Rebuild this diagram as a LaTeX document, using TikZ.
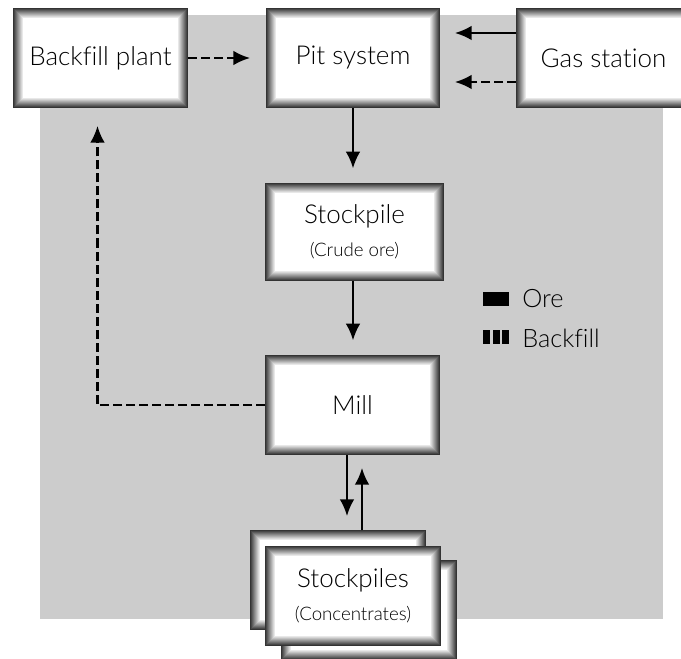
\documentclass[tikz,border=0pt]{standalone}
\usepackage{fontspec}
\setmainfont{Lato}[UprightFont=* Light, Ligatures=NoCommon]
\usetikzlibrary{arrows.meta,calc}

\newcommand\subtextfont{\fontsize{14}{17}\selectfont}

\tikzset{
  bevelbox/.style={
    rectangle, inner sep=0pt, outer sep=0pt, fill=white,
    minimum width=131.25pt, minimum height=75pt,
    font=\fontsize{19.5}{23}\selectfont, align=center,
    path picture={
      \foreach \k/\g in {0/80,1/72,2/64,3/56,4/48,5/40,6/32,7/24,8/16,9/9}{
        \draw[black!\g, line width=0.9pt]
          ($(path picture bounding box.north west)+(\k+0.5,\k+0.5)$) rectangle
          ($(path picture bounding box.south east)+(-\k-0.5,-\k-0.5)$);
      }
    }
  },
  flow/.style={line width=1.6pt, -{Latex[length=12.5pt,width=11pt]}},
  fillflow/.style={flow, dash pattern=on 6.75pt off 3pt},
  legtext/.style={anchor=west, inner sep=0pt, font=\fontsize{19}{23}\selectfont}
}

\begin{document}
\begin{tikzpicture}[x=0.75pt, y=-0.75pt]
  \useasboundingbox (0,0) rectangle (681,659);

  % shaded site area
  \fill[black!20] (40,15) rectangle (663,619);

  % plants and storage
  \node[bevelbox] (bp)   at (100.5,58) {Backfill plant};
  \node[bevelbox, minimum width=130.5pt] (pit) at (353,58) {Pit system};
  \node[bevelbox] (gas)  at (603.5,58) {Gas station};
  \node[bevelbox, minimum width=134.25pt, minimum height=73.5pt] (stock) at (354.5,232)
    {Stockpile\\[2pt]{\subtextfont (Crude ore)}};
  \node[bevelbox] (mill) at (352.5,405) {Mill};

  % stacked concentrate stockpiles
  \node[bevelbox, minimum width=132pt] (sp1) at (338,580) {};
  \node[bevelbox, minimum width=132pt] (sp2) at (369,610) {};
  \node[bevelbox, minimum width=132pt] (sp) at (353,596)
    {Stockpiles\\[2pt]{\subtextfont (Concentrates)}};

  % material flows
  \draw[fillflow, shorten >=12pt] (bp.east) -- (pit.west);
  \draw[flow, shorten >=11.25pt] ($(gas.west)+(0,-25)$) -- ($(pit.east)+(0,-25)$);
  \draw[fillflow, shorten >=11.25pt] ($(gas.west)+(0,24)$) -- ($(pit.east)+(0,24)$);
  \draw[flow, shorten >=11pt] (pit.south) -- (pit.south |- stock.north);
  \draw[flow, shorten >=11pt] (pit.south |- stock.south) -- (pit.south |- mill.north);
  \draw[fillflow, shorten >=13.5pt] (mill.west) -| ($(bp.south)+(-3,0)$);
  \coordinate (down) at ($(mill.south)+(-5.5,0)$);
  \coordinate (up) at ($(sp1.north)+(24,0)$);
  \draw[flow, shorten >=10.5pt] (down) -- (down |- sp1.north);
  \draw[flow, shorten >=9.75pt] (up) -- (up |- mill.south);

  % legend
  \fill[black] (483,292) rectangle (509,306);
  \node[legtext] (lore) at (522,299) {Ore};
  \fill[black] (483,330) rectangle (490,344);
  \fill[black] (492.5,330) rectangle (499.5,344);
  \fill[black] (502,330) rectangle (509,344);
  \node[legtext] (lfill) at (522,338) {Backfill};
\end{tikzpicture}
\end{document}
